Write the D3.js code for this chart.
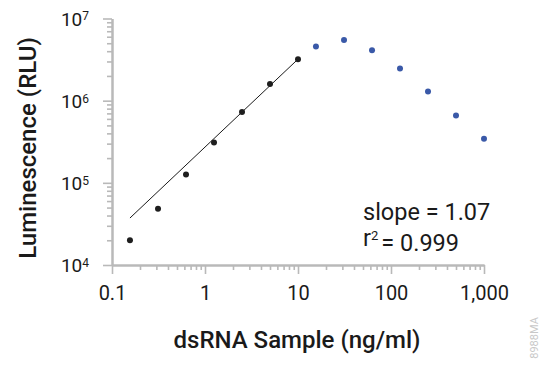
<!DOCTYPE html>
<html>
<head>
<meta charset="utf-8">
<script src="https://cdn.jsdelivr.net/npm/d3@7"></script>
<style>
  body { margin: 0; background: #fff; }
  svg text { font-family: Roboto, "Noto Sans", sans-serif; fill: #1a1a1a; }
</style>
</head>
<body>
<div id="chart"></div>
<script>
// dsRNA dilution series, luminescence read-out
var fitConc = [0.156, 0.3125, 0.625, 1.25, 2.5, 5, 10];
var fitRlu = [2.0e4, 4.85e4, 1.26e5, 3.09e5, 7.3e5, 1.59e6, 3.2e6];
var highConc = [15.6, 31.25, 62.5, 125, 250, 500, 1000];
var highRlu = [4.56e6, 5.46e6, 4.12e6, 2.46e6, 1.29e6, 6.6e5, 3.43e5];
// regression line end points
var lineConc = [0.156, 10];
var lineRlu = [3.73e4, 3.2e6];

var xMajor = [0.1, 1, 10, 100, 1000];
var yMajor = [1e4, 1e5, 1e6, 1e7];
var yExp = ["4", "5", "6", "7"];
var statLines = ["slope = 1.07", "r"];

var width = 541, height = 369;
var axisColor = "#b9b9b9";

var svg = d3.select("#chart").append("svg")
  .attr("width", width)
  .attr("height", height);

var x = d3.scaleLog().domain([0.1, 1000]).range([112, 484]);
var y = d3.scaleLog().domain([1e4, 1e7]).range([265, 18.5]);

function minors(lo, hi) {
  var out = [];
  for (var p = lo; p < hi; p *= 10) {
    for (var k = 2; k <= 9; k++) out.push(p * k);
  }
  return out;
}

// x axis
var xMinorAxis = d3.axisBottom(x).tickValues(minors(0.1, 1000)).tickSize(5).tickSizeOuter(0).tickFormat("");
var xAxis = d3.axisBottom(x).tickValues(xMajor).tickSize(9).tickSizeOuter(0).tickPadding(12).tickFormat(d3.format(","));

svg.append("g").attr("class", "x-minor")
  .attr("transform", "translate(0,265)")
  .call(xMinorAxis);
var gx = svg.append("g").attr("class", "x-axis")
  .attr("transform", "translate(0,265)")
  .call(xAxis);

// y axis
var yMinorAxis = d3.axisLeft(y).tickValues(minors(1e4, 1e7)).tickSize(5).tickSizeOuter(0).tickFormat("");
var yAxis = d3.axisLeft(y).tickValues(yMajor).tickSize(9).tickSizeOuter(0).tickFormat("");

svg.append("g").attr("class", "y-minor")
  .attr("transform", "translate(112,0)")
  .call(yMinorAxis);
var gy = svg.append("g").attr("class", "y-axis")
  .attr("transform", "translate(112,0)")
  .call(yAxis);

svg.selectAll(".domain").attr("stroke", axisColor).attr("stroke-width", 2);
svg.selectAll(".tick line").attr("stroke", axisColor).attr("stroke-width", 1.6);

gx.selectAll(".tick text")
  .attr("font-size", 20)
  .attr("fill", "#1a1a1a")
  .style("font-family", "Roboto, sans-serif");

// powers of ten on y
gy.selectAll(".tick").each(function(d, i) {
  var t = d3.select(this).append("text")
    .attr("x", -23)
    .attr("dy", "0.36em")
    .attr("text-anchor", "end")
    .attr("font-size", 19)
    .style("font-family", "Roboto, sans-serif")
    .attr("fill", "#1a1a1a");
  t.append("tspan").text("10");
  t.append("tspan").attr("dy", "-0.45em").attr("font-size", 12).text(yExp[i]);
});

// fit line
var line = d3.line()
  .x(function(d) { return x(d[0]); })
  .y(function(d) { return y(d[1]); });

svg.append("path")
  .datum(lineConc.map(function(c, i) { return [c, lineRlu[i]]; }))
  .attr("d", line)
  .attr("fill", "none")
  .attr("stroke", "#1a1a1a")
  .attr("stroke-width", 1);

// points
svg.selectAll(".fit-pt")
  .data(fitConc.map(function(c, i) { return [c, fitRlu[i]]; }))
  .enter().append("circle")
  .attr("class", "fit-pt")
  .attr("cx", function(d) { return x(d[0]); })
  .attr("cy", function(d) { return y(d[1]); })
  .attr("r", 3)
  .attr("fill", "#1e1e1e");

svg.selectAll(".high-pt")
  .data(highConc.map(function(c, i) { return [c, highRlu[i]]; }))
  .enter().append("circle")
  .attr("class", "high-pt")
  .attr("cx", function(d) { return x(d[0]); })
  .attr("cy", function(d) { return y(d[1]); })
  .attr("r", 3)
  .attr("fill", "#3a59a8");

// stats
svg.append("text")
  .attr("x", 363).attr("y", 220)
  .attr("font-size", 23.5)
  .text(statLines[0]);
var r2 = svg.append("text")
  .attr("x", 363).attr("y", 246)
  .attr("font-size", 23.5);
r2.append("tspan").text(statLines[1]);
r2.append("tspan").attr("dy", "-0.45em").attr("font-size", 13).text("2");
r2.append("tspan").attr("dy", "0.45em").attr("dx", 3).text("= 0.999");

// axis titles
svg.append("text")
  .attr("x", 297).attr("y", 348)
  .attr("text-anchor", "middle")
  .attr("font-size", 24)
  .attr("font-weight", 500)
  .text("dsRNA Sample (ng/ml)");

svg.append("text")
  .attr("transform", "translate(36,148) rotate(-90)")
  .attr("text-anchor", "middle")
  .attr("font-size", 24)
  .attr("font-weight", 500)
  .text("Luminescence (RLU)");

// figure code
svg.append("text")
  .attr("transform", "translate(538,338) rotate(-90)")
  .attr("text-anchor", "middle")
  .attr("font-size", 11)
  .style("fill", "#c8c8c8")
  .text("8988MA");
</script>
</body>
</html>
